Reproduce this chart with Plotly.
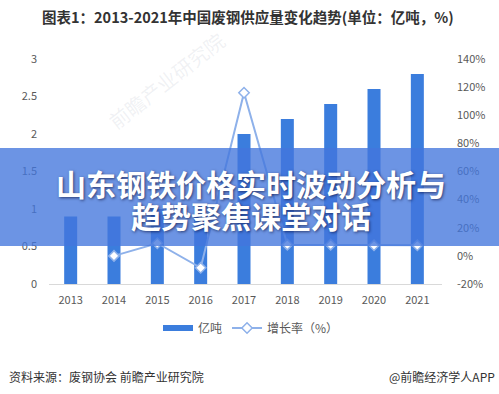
import plotly.graph_objects as go

years = ["2013", "2014", "2015", "2016", "2017", "2018", "2019", "2020", "2021"]
supply = [0.9, 0.9, 1.0, 0.9, 2.0, 2.2, 2.4, 2.6, 2.8]
growth_years = ["2014", "2015", "2016", "2017", "2018", "2019", "2020", "2021"]
growth = [0.0, 9.0, -8.5, 116.0, 8.0, 8.0, 7.5, 7.5]
left_ticks = [0, 0.5, 1, 1.5, 2, 2.5, 3]
left_labels = ["0", "0.5", "1", "1.5", "2", "2.5", "3"]
right_ticks = [-20, 0, 20, 40, 60, 80, 100, 120, 140]
right_labels = ["-20%", "0%", "20%", "40%", "60%", "80%", "100%", "120%", "140%"]

FONT = "Noto Sans CJK SC"
BAR_COLOR = "#3b7ddd"
LINE_COLOR = "#8eb1ea"
W, H = 499, 394
L, R, T, B = 49, 57, 59, 110
pw, ph = W - L - R, H - T - B

def px(xp):
    return (xp - L) / pw

def py(yp):
    return (H - B - yp) / ph

fig = go.Figure()
fig.add_trace(go.Bar(
    x=years, y=supply, name="亿吨", showlegend=False,
    marker=dict(color=BAR_COLOR, line=dict(width=0)),
    yaxis="y",
))
# legend-only entry drawn as a wide rectangle like the reference
fig.add_trace(go.Scatter(
    x=[None], y=[None], name="亿吨", mode="lines",
    line=dict(color=BAR_COLOR, width=6), yaxis="y",
))
fig.add_trace(go.Scatter(
    x=growth_years, y=growth, name="增长率（%）", mode="lines+markers",
    line=dict(color=LINE_COLOR, width=2),
    marker=dict(symbol="diamond", size=8, color="white",
                line=dict(color=LINE_COLOR, width=1.5)),
    yaxis="y2",
))

fig.update_layout(
    width=W, height=H,
    margin=dict(l=L, r=R, t=T, b=B, autoexpand=False),
    paper_bgcolor="white", plot_bgcolor="white",
    bargap=0.7,
    hovermode=False,
    font=dict(family=FONT, size=11, color="#595959"),
    showlegend=True,
    legend=dict(orientation="h", x=px(251), xanchor="center",
                y=py(328), yanchor="middle",
                font=dict(size=12, color="#595959"), itemwidth=30,
                traceorder="normal", bgcolor="rgba(0,0,0,0)"),
    xaxis=dict(type="category", showgrid=False, showline=True,
               linecolor="#d9d9d9", linewidth=1, ticks="", automargin=False,
               tickfont=dict(size=11, color="#595959"),
               ticklabelstandoff=6),
    yaxis=dict(range=[0, 3], tickvals=left_ticks, ticktext=left_labels,
               showgrid=False, zeroline=False, showline=False, automargin=False,
               tickfont=dict(size=11, color="#595959"),
               ticklabelstandoff=11),
    yaxis2=dict(range=[-20, 140], tickvals=right_ticks, ticktext=right_labels,
                overlaying="y", side="right", showgrid=False, zeroline=False,
                showline=False, automargin=False,
                tickfont=dict(size=11, color="#595959"),
                ticklabelstandoff=14),
)

# watermark
fig.add_annotation(x=px(166), y=py(80), xref="paper", yref="paper",
                   xanchor="center", yanchor="middle",
                   text="前瞻产业研究院", showarrow=False, textangle=-38,
                   font=dict(family=FONT, size=20, color="rgba(160,170,185,0.16)"))

# chart title
fig.add_annotation(x=px(248), y=py(17), xref="paper", yref="paper",
                   text="<b>图表1：2013-2021年中国废钢供应量变化趋势(单位：亿吨，%)</b>",
                   showarrow=False, xanchor="center", yanchor="middle",
                   font=dict(family=FONT, size=14.5, color="#333333"))

# banner
fig.add_shape(type="rect", xref="paper", yref="paper",
              x0=px(0), x1=px(W), y0=py(246), y1=py(148),
              fillcolor="rgba(66,118,220,0.78)", line=dict(width=0), layer="above")
fig.add_annotation(x=px(251), y=py(183), xref="paper", yref="paper",
                   xanchor="center", yanchor="middle",
                   text="<b>山东钢铁价格实时波动分析与</b>", showarrow=False,
                   font=dict(family=FONT, size=30, color="white",
                             shadow="1px 1px 3px rgba(0,0,40,0.6)"))
fig.add_annotation(x=px(251), y=py(215), xref="paper", yref="paper",
                   xanchor="center", yanchor="middle",
                   text="<b>趋势聚焦课堂对话</b>", showarrow=False,
                   font=dict(family=FONT, size=30, color="white",
                             shadow="1px 1px 3px rgba(0,0,40,0.6)"))

# footer
fig.add_annotation(x=px(7), y=py(376), xref="paper", yref="paper",
                   text="资料来源：废钢协会 前瞻产业研究院", showarrow=False,
                   xanchor="left", yanchor="middle",
                   font=dict(family=FONT, size=12, color="#333333"))
fig.add_annotation(x=px(497), y=py(376), xref="paper", yref="paper",
                   text="@前瞻经济学人APP", showarrow=False,
                   xanchor="right", yanchor="middle",
                   font=dict(family=FONT, size=12, color="#333333"))

fig.write_html("out.html",
               config={"displayModeBar": False, "staticPlot": True},
               post_script="document.body.style.margin='0';document.body.style.overflow='hidden';")
